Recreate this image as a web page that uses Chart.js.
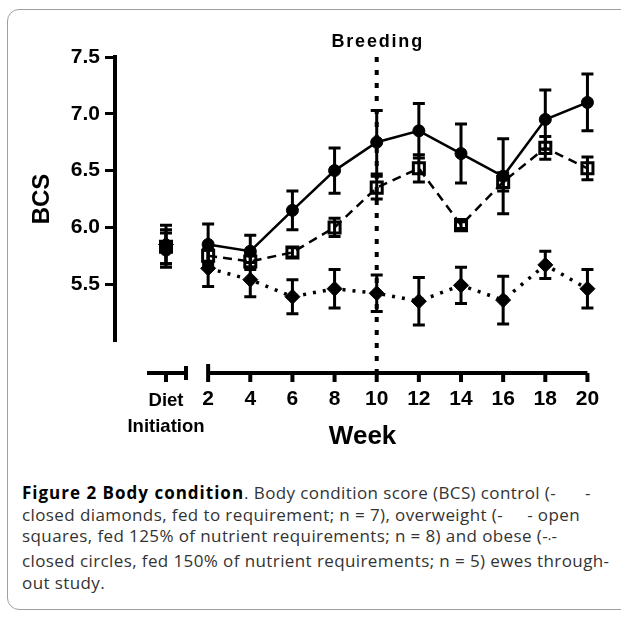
<!DOCTYPE html>
<html>
<head>
<meta charset="utf-8">
<script src="https://cdn.jsdelivr.net/npm/chart.js@4.4.1/dist/chart.umd.min.js"></script>
<style>
  html, body { margin: 0; padding: 0; background: #fff; width: 621px; height: 621px; overflow: hidden; }
  #frame { position: absolute; left: 7px; top: 9px; width: 650px; height: 599px; border: 1.5px solid #a0a0a0; border-radius: 12px; }
  #wrap { position: absolute; left: 0; top: 0; width: 621px; height: 470px; }
  #caption { position: absolute; left: 22px; top: 482px; font-family: "Open Sans", sans-serif; font-size: 17px; line-height: 21.7px; color: #333; white-space: nowrap; letter-spacing: 0.4px; }
  #caption b { color: #000; font-weight: 700; letter-spacing: 1px; }
</style>
</head>
<body>
<div id="frame"></div>
<div id="wrap"><canvas id="bcs-chart"></canvas></div>
<div id="caption">
  <b>Figure 2 Body condition</b>. Body condition score (BCS) control (-&nbsp;&nbsp;&nbsp;&nbsp;&nbsp;&nbsp;-<br>
  closed diamonds, fed to requirement; n = 7), overweight (-&nbsp;&nbsp;&nbsp;&nbsp;&nbsp;- open<br>
  squares, fed 125% of nutrient requirements; n = 8) and obese (-<span style="font-size:8px">&#8226;</span>-<br>
  closed circles, fed 150% of nutrient requirements; n = 5) ewes through-<br>
  out study.
</div>
<script>
// Weeks (0 = diet initiation)
const weeks = [0, 2, 4, 6, 8, 10, 12, 14, 16, 18, 20];
const xTickLabels = [['Diet', 'Initiation'], '2', '4', '6', '8', '10', '12', '14', '16', '18', '20'];
const yTicks = [5.5, 6.0, 6.5, 7.0, 7.5];
const breedingWeek = 10;

// obese - closed circles
const obeseBCS = [5.80, 5.85, 5.79, 6.15, 6.50, 6.75, 6.85, 6.65, 6.45, 6.95, 7.10];
const obeseSEM = [0.15, 0.18, 0.14, 0.17, 0.20, 0.28, 0.24, 0.26, 0.33, 0.26, 0.25];
// overweight - open squares
const overweightBCS = [5.83, 5.75, 5.70, 5.78, 6.00, 6.35, 6.52, 6.02, 6.40, 6.70, 6.52];
const overweightSEM = [0.15, 0.06, 0.07, 0.04, 0.08, 0.10, 0.12, 0.03, 0.08, 0.10, 0.10];
// control - closed diamonds
const controlBCS = [5.85, 5.64, 5.54, 5.39, 5.46, 5.42, 5.35, 5.49, 5.36, 5.67, 5.46];
const controlSEM = [0.17, 0.16, 0.15, 0.15, 0.17, 0.16, 0.21, 0.16, 0.21, 0.12, 0.17];

const FONT = '"Liberation Sans", Arial, sans-serif';

const toPoints = (vals) => weeks.map((w, i) => ({ x: w, y: vals[i] }));
// no line across the axis break between diet initiation and week 2
const hideBreak = (ctx, style) => ctx.p0DataIndex === 0 ? 'rgba(0,0,0,0)' : style;

// Error bars, breeding line and the broken week axis
const bcsExtras = {
    id: 'bcsExtras',
    beforeDatasetsDraw(chart) {
        const ctx = chart.ctx;
        const xs = chart.scales.x, ys = chart.scales.y;
        const area = chart.chartArea;
        const axisY = area.bottom + 32;

        // breeding marker
        ctx.save();
        ctx.strokeStyle = '#000';
        ctx.lineWidth = 4;
        ctx.setLineDash([5, 8]);
        const bx = xs.getPixelForValue(breedingWeek);
        ctx.beginPath();
        ctx.moveTo(bx, area.top);
        ctx.lineTo(bx, axisY);
        ctx.stroke();
        ctx.restore();

        // error bars
        ctx.save();
        ctx.strokeStyle = '#000';
        ctx.lineWidth = 3;
        chart.data.datasets.forEach((ds, i) => {
            const meta = chart.getDatasetMeta(i);
            meta.data.forEach((pt, j) => {
                const v = ds.data[j].y, e = ds.errors[j];
                const top = ys.getPixelForValue(v + e);
                const bot = ys.getPixelForValue(v - e);
                ctx.beginPath();
                ctx.moveTo(pt.x, top); ctx.lineTo(pt.x, bot);
                ctx.moveTo(pt.x - 6, top); ctx.lineTo(pt.x + 6, top);
                ctx.moveTo(pt.x - 6, bot); ctx.lineTo(pt.x + 6, bot);
                ctx.stroke();
            });
        });
        ctx.restore();
    },
    afterDraw(chart) {
        const ctx = chart.ctx;
        const xs = chart.scales.x;
        const area = chart.chartArea;
        const axisY = area.bottom + 32;
        const px = (w) => xs.getPixelForValue(w);

        ctx.save();
        ctx.strokeStyle = '#000';
        ctx.lineWidth = 4;
        ctx.beginPath();
        // diet initiation piece
        ctx.moveTo(px(-0.9), axisY); ctx.lineTo(px(0.95), axisY);
        ctx.moveTo(px(0.95), axisY - 7); ctx.lineTo(px(0.95), axisY + 7);
        ctx.moveTo(px(0), axisY); ctx.lineTo(px(0), axisY + 9);
        // weeks 2-20
        ctx.moveTo(px(2), axisY); ctx.lineTo(px(20), axisY);
        ctx.moveTo(px(2), axisY - 9); ctx.lineTo(px(2), axisY + 9);
        weeks.filter(w => w > 2).forEach(w => {
            ctx.moveTo(px(w), axisY); ctx.lineTo(px(w), axisY + 9);
        });
        ctx.stroke();

        // label over the breeding line
        ctx.fillStyle = '#000';
        ctx.font = 'bold 18px ' + FONT;
        ctx.letterSpacing = '1.8px';
        ctx.textAlign = 'center';
        ctx.textBaseline = 'middle';
        ctx.fillText('Breeding', px(breedingWeek) + 1, 42);
        ctx.restore();
    }
};

const ctx = document.getElementById('bcs-chart').getContext('2d');
new Chart(ctx, {
    type: 'line',
    data: {
        datasets: [
            {
                label: 'Obese',
                data: toPoints(obeseBCS),
                errors: obeseSEM,
                borderColor: '#000',
                borderWidth: 2.5,
                pointStyle: 'circle',
                pointRadius: 6,
                pointBorderWidth: 1,
                pointBackgroundColor: '#000',
                pointBorderColor: '#000',
                segment: { borderColor: c => hideBreak(c, '#000') }
            },
            {
                label: 'Overweight',
                data: toPoints(overweightBCS),
                errors: overweightSEM,
                borderColor: '#000',
                borderWidth: 2.5,
                borderDash: [9, 6],
                pointStyle: 'rect',
                pointRadius: 7.8,
                pointBorderWidth: 3,
                pointBackgroundColor: 'rgba(0,0,0,0)',
                pointBorderColor: '#000',
                segment: { borderColor: c => hideBreak(c, '#000') }
            },
            {
                label: 'Control',
                data: toPoints(controlBCS),
                errors: controlSEM,
                borderColor: '#000',
                borderWidth: 3.5,
                borderDash: [3, 7],
                pointStyle: 'rectRot',
                pointRadius: 7.5,
                pointBorderWidth: 1,
                pointBackgroundColor: '#000',
                pointBorderColor: '#000',
                segment: { borderColor: c => hideBreak(c, '#000') }
            }
        ]
    },
    options: {
        responsive: true, maintainAspectRatio: false,
        animation: false,
        layout: { padding: { left: 25, top: 57, right: 0, bottom: 0 } },
        plugins: { legend: { display: false }, tooltip: { enabled: false } },
        scales: {
            x: {
                type: 'linear',
                min: -2.42, max: 21.08,
                afterBuildTicks: (scale) => { scale.ticks = weeks.map(w => ({ value: w })); },
                afterFit: (scale) => {
                    scale.height = 129;
                    scale.paddingLeft = 0;
                    scale.paddingRight = 0;
                },
                grid: { display: false, drawTicks: false },
                border: { display: false },
                ticks: {
                    autoSkip: false, maxRotation: 0, padding: 46, color: '#000',
                    callback: (v) => xTickLabels[weeks.indexOf(v)],
                    font: (c) => c.tick && c.tick.value === 0
                        ? { family: FONT, size: 18.5, weight: 'bold', lineHeight: 1.45 }
                        : { family: FONT, size: 21, weight: 'bold', lineHeight: 1.2 }
                },
                title: {
                    display: true, text: 'Week', color: '#000',
                    font: { family: FONT, size: 26, weight: 'bold' },
                    padding: { top: 0, bottom: 18 }
                }
            },
            y: {
                min: 5.0, max: 7.5,
                afterBuildTicks: (scale) => { scale.ticks = yTicks.map(v => ({ value: v })); },
                afterFit: (scale) => {
                    scale.width = 90;
                    scale.paddingTop = 0;
                    scale.paddingBottom = 0;
                },
                border: { display: true, color: '#000', width: 4 },
                grid: { drawOnChartArea: false, drawTicks: true, tickLength: 10, tickWidth: 3, tickColor: '#000' },
                ticks: {
                    padding: 5, color: '#000',
                    font: { family: FONT, size: 21, weight: 'bold' },
                    callback: (v) => v.toFixed(1)
                },
                title: {
                    display: true, text: 'BCS', color: '#000',
                    font: { family: FONT, size: 24, weight: 'bold' },
                    padding: { top: 3, bottom: 0 }
                }
            }
        }
    },
    plugins: [bcsExtras]
});
</script>
</body>
</html>
